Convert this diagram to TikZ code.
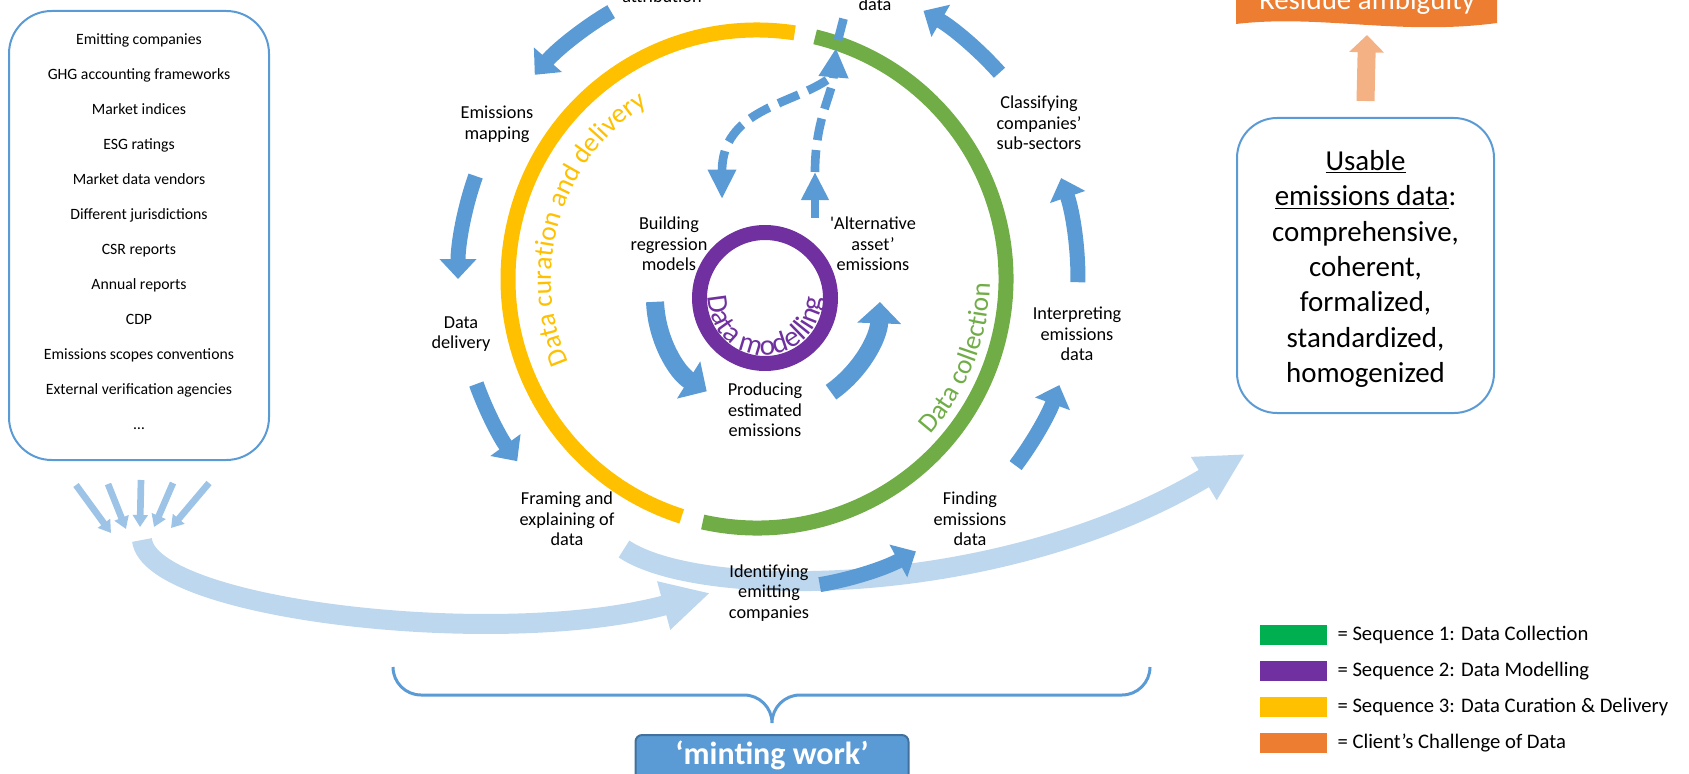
\documentclass[tikz,border=0pt]{standalone}
\usepackage{fontspec}
\setmainfont{Carlito}
\usetikzlibrary{arrows.meta,decorations.text,positioning}
\definecolor{ringyellow}{HTML}{FFC000}
\definecolor{ringgreen}{HTML}{70AD47}
\definecolor{ringpurple}{HTML}{7030A0}
\definecolor{flowblue}{HTML}{5B9BD5}
\definecolor{paleblue}{HTML}{BDD7EE}
\definecolor{softblue}{HTML}{9DC3E6}
\definecolor{darkblue}{HTML}{41719C}
\definecolor{seqgreen}{HTML}{00B050}
\definecolor{clientorange}{HTML}{ED7D31}
\definecolor{paleorange}{HTML}{F4B183}
\newcommand{\ringfont}{\fontsize{20.5}{24}\selectfont}
\newcommand{\modelfont}{\fontsize{22}{26}\selectfont}

\begin{document}
\begin{tikzpicture}[x=0.75pt,y=0.75pt,
  lbl/.style={align=center,font=\fontsize{13.7}{15.5}\selectfont,inner sep=1pt},
  ringline/.style={line width=11.25pt},
  flow/.style={flowblue,line width=11.25pt,-{Triangle[width=27pt,length=15pt]}},
  innerflow/.style={flowblue,line width=13.5pt,-{Triangle[width=32pt,length=16pt]}},
  dashflow/.style={flowblue,line width=6.5pt,dash pattern=on 16.5pt off 7.5pt},
  bigflow/.style={paleblue,line width=15pt,-{Triangle[width=35pt,length=36pt]}},
  feed/.style={softblue,line width=5pt,-{Triangle[width=11pt,length=9pt]}},
  roundbox/.style={draw=flowblue,line width=1.5pt,rounded corners=32pt},
  swatch/.style={minimum width=50.25pt,minimum height=15pt,inner sep=0pt},
  legtext/.style={font=\fontsize{15.5}{18}\selectfont,inner sep=0pt,anchor=west}]
\useasboundingbox (0,0) rectangle (1689,-774);
\clip (0,0) rectangle (1689,-774);

\coordinate (rc) at (757,-279);
\coordinate (oc) at (768,-279);
\coordinate (mc) at (765,-298);

\node[roundbox,minimum width=195pt,minimum height=336.75pt] (sources) at (139,-235.5) {};
\node[align=center,font=\fontsize{11.8}{26.25}\selectfont] (sourcelist) at (139,-231.5)
  {Emitting companies\\GHG accounting frameworks\\Market indices\\ESG ratings\\Market data vendors\\Different jurisdictions\\CSR reports\\Annual reports\\CDP\\Emissions scopes conventions\\External verification agencies\\…};

\coordinate (feedA) at (76,-485);
\coordinate (feedB) at (108,-484);
\coordinate (feedC) at (141,-480);
\coordinate (feedD) at (173,-483);
\coordinate (feedE) at (209,-483);
\coordinate (joinA) at (111,-533);
\coordinate (joinB) at (126,-529);
\coordinate (joinC) at (140,-527);
\coordinate (joinD) at (154,-527);
\coordinate (joinE) at (171,-528);
\draw[feed] (feedA) -- (joinA);
\draw[feed] (feedB) -- (joinB);
\draw[feed] (feedC) -- (joinC);
\draw[feed] (feedD) -- (joinD);
\draw[feed] (feedE) -- (joinE);

\coordinate (feedjoin) at (142,-540);
\coordinate (collecttip) at (710,-593);
\coordinate (framestart) at (624,-549);
\coordinate (usabletip) at (1245,-454);
\draw[bigflow] (feedjoin) .. controls (150,-610) and (500,-650) .. (collecttip);
\draw[bigflow] (framestart) .. controls (700,-600) and (1000,-600) .. (usabletip);

\draw[ringline,ringyellow] ([shift={(rc)}]81.3:249) arc (81.3:252.4:249);
\draw[ringline,ringgreen] ([shift={(rc)}]-102.6:249) arc (-102.6:76.5:249);
\node[circle,draw=ringpurple,line width=11.25pt,minimum size=98.25pt,inner sep=0pt] (model) at (mc) {};

\path[decorate,decoration={text along path,text align=center,text color=ringyellow,text={|\ringfont|Data curation and delivery}}] ([shift={(rc)}]230:206) arc (230:96:206);
\path[decorate,decoration={text along path,text align=center,text color=ringgreen,text={|\ringfont|Data collection}}] ([shift={(rc)}]-70:233) arc (-70:27:233);
\path[decorate,decoration={text along path,text align=center,text color=ringpurple,text={|\modelfont|Data modelling}}] ([shift={(mc)}]150:57) arc (150:389:57);

\draw[flow] ([shift={(oc)}]120.4:310) arc (120.4:138.8:310);
\draw[flow] ([shift={(oc)}]160.6:310) arc (160.6:180:310);
\draw[flow] ([shift={(oc)}]199.8:310) arc (199.8:216:310);
\draw[flow] ([shift={(oc)}]279.6:310) arc (279.6:298.5:310);
\draw[flow] ([shift={(oc)}]323:310) arc (323:340:310);
\draw[flow] ([shift={(oc)}]-0.6:310) arc (-0.6:19:310);
\draw[flow] ([shift={(oc)}]41.7:310) arc (41.7:59.9:310);

\draw[innerflow] ([shift={(mc)}]182:110) arc (182:238:110);
\draw[innerflow] ([shift={(mc)}]-55:115) arc (-55:-2:115);

\coordinate (altfoot) at (815,-218);
\coordinate (altjoin) at (815,-172);
\coordinate (uptip) at (836,-48);
\coordinate (curvestart) at (827,-80);
\coordinate (buildtip) at (722,-199);
\coordinate (dashlow) at (838,-40);
\coordinate (dashhigh) at (845,-13);
\draw[flowblue,line width=6pt,-{Triangle[width=19.5pt,length=21pt]}] (altfoot) -- (altjoin);
\draw[dashflow,-{Triangle[width=21pt,length=22pt]}] (altjoin) .. controls (815,-120) and (832,-95) .. (uptip);
\draw[dashflow,-{Triangle[width=20pt,length=22pt]}] (curvestart) .. controls (790,-105) and (722,-110) .. (buildtip);
\draw[dashflow] (dashlow) -- (dashhigh);

\node[lbl,anchor=base] (attribution) at (662,-3) {attribution};
\node[lbl,anchor=base] (datatop) at (875,-11) {data};
\node[lbl] (mapping) at (497,-124) {Emissions\\mapping};
\node[lbl] (delivery) at (461,-334) {Data\\delivery};
\node[lbl] (framing) at (567,-519) {Framing and\\explaining of\\data};
\node[lbl] (identifying) at (769,-593) {Identifying\\emitting\\companies};
\node[lbl] (finding) at (970,-519) {Finding\\emissions\\data};
\node[lbl] (interpreting) at (1077,-334) {Interpreting\\emissions\\data};
\node[lbl] (classifying) at (1039,-123) {Classifying\\companies’\\sub-sectors};
\node[lbl] (building) at (669,-244) {Building\\regression\\models};
\node[lbl] (altasset) at (873,-244) {\textquotesingle Alternative\\asset’\\emissions};
\node[lbl] (producing) at (765,-410) {Producing\\estimated\\emissions};

\node[roundbox,rounded corners=30pt,minimum width=192.75pt,minimum height=221.25pt] (usable) at (1365.5,-265.5) {};
\node[align=center,font=\fontsize{21.7}{26.5}\selectfont] (usablelist) at (1365.5,-269)
  {\underline{Usable}\\\underline{emissions data}:\\comprehensive,\\coherent,\\formalized,\\standardized,\\homogenized};

\fill[clientorange] (1236,10) -- (1236,-24) .. controls (1320,-14) and (1400,-36) .. (1497,-23) -- (1497,10) -- cycle;
\node[anchor=base,text=white,font=\fontsize{21.7}{26}\selectfont] (residue) at (1367,-10) {Residue ambiguity};
\coordinate (restip) at (1367,-35);
\draw[paleorange,line width=13.5pt,-{Triangle[width=25.5pt,length=13pt]}] ([yshift=12pt]usable.north) -- (restip);

\coordinate (braceL) at (393,-667);
\coordinate (braceR) at (1150,-667);
\draw[flowblue,line width=2.25pt] (braceL) arc (180:270:28) -- (744,-695) arc (90:0:28) arc (180:90:28) -- (1122,-695) arc (270:360:28);
\node[fill=flowblue,draw=darkblue,line width=1.5pt,rounded corners=5pt,minimum width=204.75pt,minimum height=39pt,text height=0.7em,text depth=0.25em,text=white,font=\fontsize{24}{28}\selectfont\bfseries] (minting) at (772,-761) {‘minting work’};

\node[swatch,fill=seqgreen] (leg1) at (1293.5,-635) {};
\node[legtext,right=7.5pt of leg1] (legtxt1) {= Sequence 1: Data Collection};
\node[swatch,fill=ringpurple] (leg2) at (1293.5,-671) {};
\node[legtext,right=7.5pt of leg2] (legtxt2) {= Sequence 2: Data Modelling};
\node[swatch,fill=ringyellow] (leg3) at (1293.5,-707) {};
\node[legtext,right=7.5pt of leg3] (legtxt3) {= Sequence 3: Data Curation \& Delivery};
\node[swatch,fill=clientorange] (leg4) at (1293.5,-743) {};
\node[legtext,right=7.5pt of leg4] (legtxt4) {= Client’s Challenge of Data};
\end{tikzpicture}
\end{document}
